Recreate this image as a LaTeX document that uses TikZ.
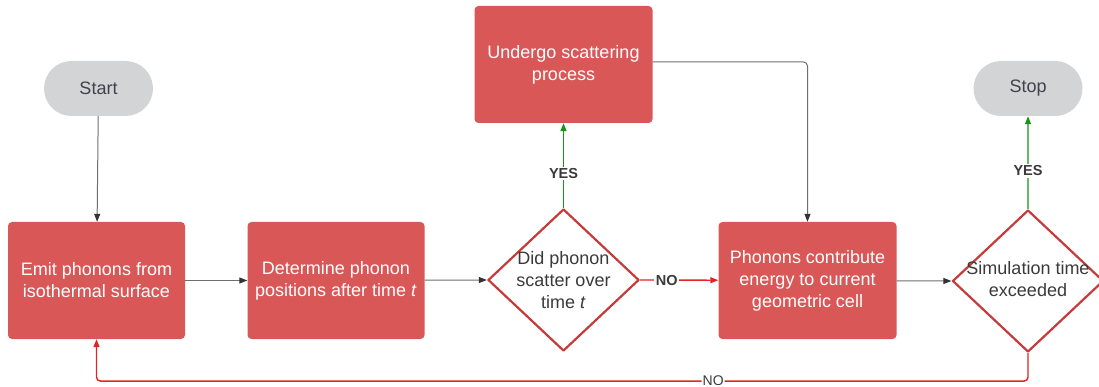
\documentclass[tikz,border=0pt]{standalone}
\usepackage{fontspec}
\setmainfont{Liberation Sans}
\usetikzlibrary{arrows.meta,shapes.geometric,shapes.misc}
\definecolor{boxred}{HTML}{D95757}
\definecolor{diamred}{HTML}{C73A3C}
\definecolor{pillgray}{HTML}{D3D4D6}
\definecolor{pilltext}{HTML}{3C434D}
\definecolor{darktext}{HTML}{3A3A3A}
\definecolor{conngray}{HTML}{6E6E6E}
\definecolor{tipgray}{HTML}{333333}
\definecolor{yesgreen}{HTML}{17951A}
\definecolor{nored}{HTML}{E22424}
\tikzset{
  procbox/.style={rectangle, rounded corners=4pt, fill=boxred, text=white, align=center,
    minimum width=177pt, inner sep=0pt, font=\fontsize{18}{22}\selectfont},
  pill/.style={rounded rectangle, fill=pillgray, text=pilltext, minimum width=109pt,
    minimum height=55pt, inner sep=0pt, font=\fontsize{18}{22}\selectfont},
  decision/.style={diamond, draw=diamred, line width=2.2pt, line join=round,
    minimum width=151pt, minimum height=142pt, inner sep=0pt},
  dtext/.style={align=center, text=darktext, font=\fontsize{18}{22}\selectfont},
  gline/.style={draw=conngray, line width=1pt, -{Triangle[length=8pt,width=6pt,color=tipgray]}},
  yesline/.style={draw=yesgreen, line width=1.4pt, -{Triangle[length=8pt,width=6pt]}},
  noline/.style={draw=nored, line width=1.4pt, -{Triangle[length=8pt,width=6pt]}},
  lbl/.style={fill=white, text=darktext, inner sep=1.5pt, font=\bfseries\fontsize{14.5}{16}\selectfont},
  lblr/.style={fill=white, text=darktext, inner sep=1pt, font=\fontsize{14}{16}\selectfont},
}
\begin{document}
\begin{tikzpicture}[x=1pt,y=-1pt]
\useasboundingbox (0,0) rectangle (1099,387);
\clip (0,0) rectangle (1099,387);
% nodes
\node[pill] (start) at (98.5,88.5) {Start};
\node[pill] (stop) at (1028,88.5) {Stop};
\node[procbox, minimum height=117pt] (emit) at (96.5,280.5) {Emit phonons from\\isothermal surface};
\node[procbox, minimum height=117pt] (det) at (336,280.5) {Determine phonon\\positions after time \textit{t}};
\node[procbox, minimum height=117pt, minimum width=178pt] (und) at (563.5,64.5) {Undergo scattering\\process};
\node[procbox, minimum height=117pt, minimum width=178pt] (phon) at (807.5,280.5) {Phonons contribute\\energy to current\\geometric cell};
\node[decision] (d1) at (563.5,280) {};
\node[dtext] at (d1) {Did phonon\\scatter over\\time \textit{t}};
\node[decision] (d2) at (1028,281) {};
\node[dtext] at ([yshift=2pt]d2.center) {Simulation time\\exceeded};
% connectors
\draw[gline] (start) -- (emit);
\draw[gline] (emit) -- (det);
\draw[gline] (det) -- (d1.west);
\draw[yesline] (d1.north) -- node[lbl, pos=0.41] {YES} (und);
\draw[noline] (d1.east) -- node[lbl, pos=0.34] {NO} (phon);
\draw[gline, rounded corners=4pt] ([yshift=2.5pt]und.east) -| (phon);
\draw[gline] (phon) -- (d2.west);
\draw[yesline] (d2.north) -- node[lbl, pos=0.41] {YES} (stop);
\draw[noline, rounded corners=4pt] (d2.south) -- ++(0,28) -| node[lblr, pos=0.169] {NO} (emit.south);
\end{tikzpicture}
\end{document}
